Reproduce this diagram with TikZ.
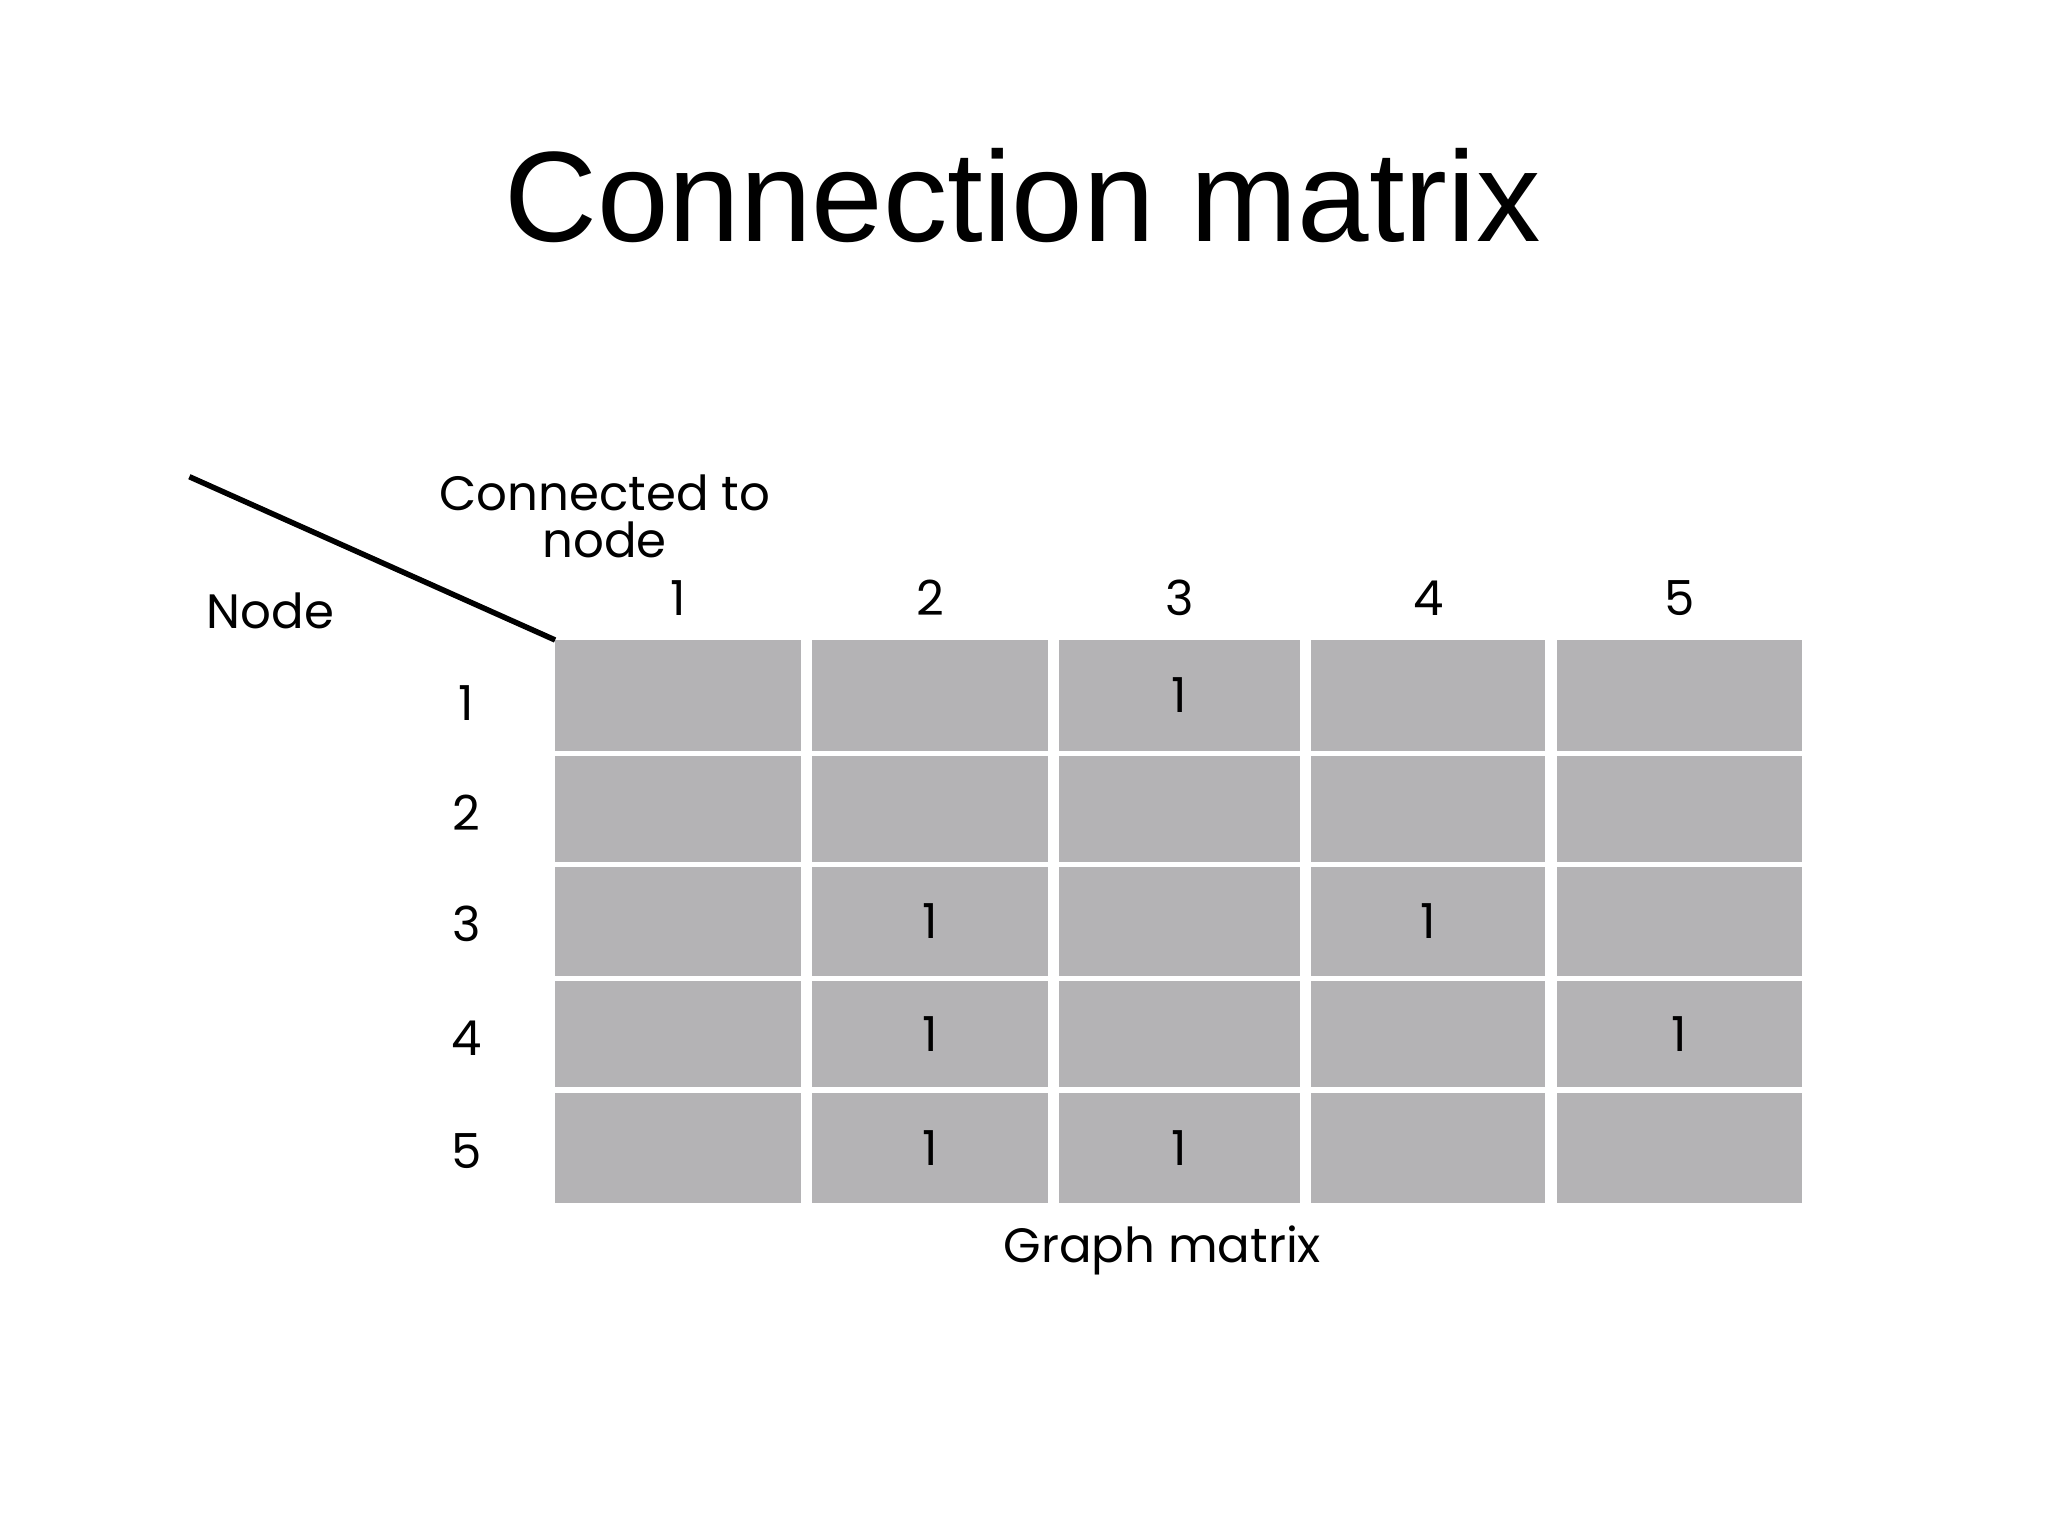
\documentclass[tikz,border=0pt]{standalone}
\usepackage{fontspec}
\setmainfont{Liberation Sans}
\newfontfamily\lbl{Poppins}
\definecolor{cellgray}{HTML}{B4B3B5}
\begin{document}
\begin{tikzpicture}[x=0.01cm,y=-0.01cm,
  cell/.style={fill=cellgray,draw=none},
  lab/.style={font=\lbl\fontsize{10.5}{12}\selectfont,inner sep=0pt}]
\useasboundingbox (0,0) rectangle (1568,1176);
\node[font=\fontsize{28}{32}\selectfont] (title) at (783,150) {Connection matrix};
\foreach \xa/\xb [count=\c] in {425/613,622/802,811/995,1004/1183,1192/1380}{
  \foreach \ya/\yb [count=\r] in {490/575,579/660,664/747,751/832,837/921}{
    \fill[cell] (\xa,\ya) rectangle (\xb,\yb);
    \coordinate (c\r\c) at ({(\xa+\xb)/2},{(\ya+\yb)/2});
  }
  \node[lab] (h\c) at ({(\xa+\xb)/2},458) {\c};
}
\foreach \r/\y in {1/538,2/622,3/707,4/795,5/881}{
  \node[lab] (r\r) at (357,\y) {\r};
}
\foreach \r/\c in {1/3,3/2,3/4,4/2,4/5,5/2,5/3}{
  \node[lab] (e\r\c) at ([yshift=0]c\r\c) {1};
}
\coordinate (d1) at (145,365);
\coordinate (d2) at (425,490);
\draw[line width=1.2pt] (d1) -- (d2);
\node[lab] (ct) at (463,377) {Connected to};
\node[lab] (nd) at (463,413) {node};
\node[lab] (node) at (207,468) {Node};
\node[lab] (gm) at (890,957) {Graph matrix};
\end{tikzpicture}
\end{document}
